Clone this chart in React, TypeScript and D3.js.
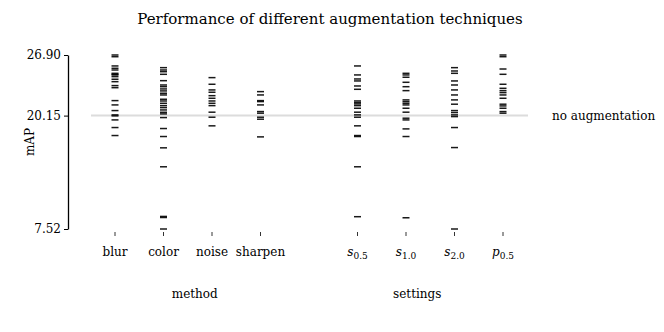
import React, { useEffect, useRef } from "react";
import * as d3 from "d3";

// categories along the x axis (the "" slot is the gap between the two groups)
const methodCats = ["blur", "color", "noise", "sharpen"];
const settingCats = ["s0.5", "s1.0", "s2.0", "p0.5"];
const groupLabels = ["method", "settings"];

const yTicks = [7.52, 20.15, 26.9];
const baseline = 20.15;

// mAP values per category
const blurVals = [26.9, 26.71, 25.68, 25.42, 25.23, 24.86, 24.75, 24.68, 24.49, 24.2, 23.93, 23.49, 23.26, 21.82, 21.34, 20.71, 20.23, 20.12, 19.67, 18.82, 17.93];
const colorVals = [25.49, 25.23, 25.04, 24.75, 24.04, 23.56, 23.37, 23.12, 22.9, 22.64, 22.45, 21.97, 21.78, 21.52, 21.26, 21.04, 20.78, 20.52, 20.34, 19.93, 18.71, 17.82, 16.56, 14.45, 8.92, 8.8, 7.52];
const noiseVals = [24.38, 23.64, 23.01, 22.75, 22.37, 22.08, 21.78, 21.52, 21.26, 20.53, 19.97, 19.01];
const sharpenVals = [22.82, 22.45, 21.82, 21.71, 21.34, 20.6, 20.42, 19.97, 19.75, 17.78];
const s05Vals = [25.68, 24.68, 24.23, 24.01, 23.45, 23.08, 21.78, 21.6, 21.45, 21.26, 20.97, 20.53, 20.23, 19.97, 19.01, 17.93, 17.82, 14.45, 8.89];
const s10Vals = [24.86, 24.68, 24.42, 23.86, 23.37, 22.93, 21.9, 21.71, 21.52, 21.34, 20.97, 20.53, 19.86, 19.67, 18.67, 17.82, 8.77];
const s20Vals = [25.49, 25.12, 24.86, 24.01, 23.56, 23.01, 22.45, 21.9, 21.42, 20.71, 20.49, 20.23, 20.04, 18.82, 16.59, 7.52];
const p05Vals = [26.9, 26.71, 25.34, 24.75, 23.64, 23.19, 22.93, 22.71, 22.45, 22.08, 21.42, 21.23, 20.97, 20.6, 20.42];

const seriesVals = [blurVals, colorVals, noiseVals, sharpenVals, s05Vals, s10Vals, s20Vals, p05Vals];

const App = () => {
  const svgRef = useRef<SVGSVGElement | null>(null);

  useEffect(() => {
    const svg = d3.select(svgRef.current);
    svg.selectAll("*").remove();

    const width = 664;
    const height = 332;
    const font = "DejaVu Serif";

    const allCats = [...methodCats, "", ...settingCats];
    const x = d3.scalePoint<string>().domain(allCats).range([115, 503]);
    const y = d3.scaleLinear().domain([7.52, 26.9]).range([229, 55]);

    // title
    svg
      .append("text")
      .attr("x", 330)
      .attr("y", 24)
      .attr("text-anchor", "middle")
      .style("font-family", font)
      .style("font-size", "15px")
      .text("Performance of different augmentation techniques");

    // baseline line
    svg
      .append("line")
      .attr("x1", 91)
      .attr("x2", 528)
      .attr("y1", y(baseline))
      .attr("y2", y(baseline))
      .attr("stroke", "#dcdcdc")
      .attr("stroke-width", 2);

    svg
      .append("text")
      .attr("x", 552)
      .attr("y", y(baseline))
      .attr("dy", "0.35em")
      .style("font-family", font)
      .style("font-size", "12px")
      .text("no augmentation");

    // y axis
    const yAxis = svg
      .append("g")
      .attr("transform", "translate(68,0)")
      .call(
        d3
          .axisLeft(y)
          .tickValues(yTicks)
          .tickFormat((d) => d3.format(".2f")(d as number))
          .tickSize(4)
          .tickSizeOuter(0)
      );
    yAxis.select(".domain").attr("stroke-width", 1.3);
    yAxis.selectAll("text").style("font-family", font).style("font-size", "12px").attr("x", -7);

    svg
      .append("text")
      .attr("transform", `translate(34,${(55 + 229) / 2}) rotate(-90)`)
      .attr("text-anchor", "middle")
      .style("font-family", font)
      .style("font-size", "12px")
      .text("mAP");

    // x ticks
    const cats = [...methodCats, ...settingCats];
    svg
      .selectAll(".xtick")
      .data(cats)
      .join("line")
      .attr("class", "xtick")
      .attr("x1", (d) => x(d)!)
      .attr("x2", (d) => x(d)!)
      .attr("y1", 232)
      .attr("y2", 236)
      .attr("stroke", "#000")
      .attr("stroke-width", 0.8);

    const lbl = svg
      .selectAll(".xlabel")
      .data(cats)
      .join("text")
      .attr("class", "xlabel")
      .attr("x", (d) => x(d)!)
      .attr("y", 256)
      .attr("text-anchor", "middle")
      .style("font-family", font)
      .style("font-size", "12px");

    lbl.each(function (d) {
      const t = d3.select(this);
      if (methodCats.includes(d)) {
        t.text(d);
      } else {
        t.append("tspan").style("font-style", "italic").text(d[0]);
        t.append("tspan").attr("dy", 3).style("font-size", "9px").text(d.slice(1));
      }
    });

    // group labels
    const groupX = [
      (x(methodCats[0])! + x(methodCats[3])!) / 2 + 7,
      (x(settingCats[0])! + x(settingCats[3])!) / 2 - 13,
    ];
    svg
      .selectAll(".glabel")
      .data(groupLabels)
      .join("text")
      .attr("class", "glabel")
      .attr("x", (_, i) => groupX[i])
      .attr("y", 298)
      .attr("text-anchor", "middle")
      .style("font-family", font)
      .style("font-size", "12px")
      .text((d) => d);

    // strip markers
    const half = 3.5;
    cats.forEach((c, i) => {
      svg
        .append("g")
        .selectAll("line")
        .data(seriesVals[i])
        .join("line")
        .attr("x1", x(c)! - half)
        .attr("x2", x(c)! + half)
        .attr("y1", (d) => y(d))
        .attr("y2", (d) => y(d))
        .attr("stroke", "#000")
        .attr("stroke-opacity", 0.9)
        .attr("stroke-width", 1.5);
    });

    svg.attr("width", width).attr("height", height);
  }, []);

  return (
    <div style={{ margin: -8 }}>
      <svg ref={svgRef} width={664} height={332} style={{ display: "block" }}></svg>
    </div>
  );
};

export default App;
